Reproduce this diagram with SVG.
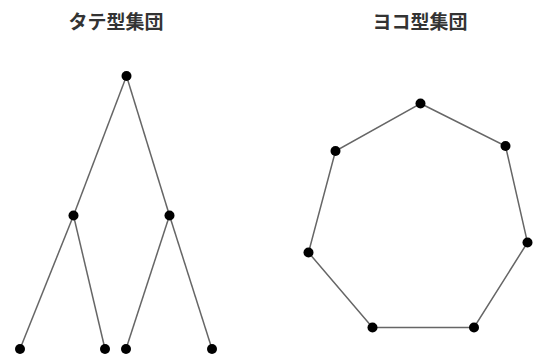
<svg xmlns="http://www.w3.org/2000/svg" width="540" height="364" viewBox="0 0 540 364">
<style>
.t{font-family:"Noto Sans CJK JP","Noto Sans",sans-serif;font-size:19px;font-weight:bold;fill:#333;text-anchor:middle}
.e{stroke:#666;stroke-width:1.5;fill:none}
.n{fill:#000}
</style>
<rect width="540" height="364" fill="#fff"/>
<text class="t" x="116" y="29">タテ型集団</text>
<text class="t" x="420" y="29">ヨコ型集団</text>
<g id="connectors">
<line class="e" x1="126.5" y1="76" x2="73.5" y2="215.5"/>
<line class="e" x1="126.5" y1="76" x2="169.5" y2="215.5"/>
<line class="e" x1="73.5" y1="215.5" x2="20" y2="349"/>
<line class="e" x1="73.5" y1="215.5" x2="105" y2="349"/>
<line class="e" x1="169.5" y1="215.5" x2="126" y2="349"/>
<line class="e" x1="169.5" y1="215.5" x2="212" y2="349"/>
<polygon class="e" points="420.5,103.5 505.5,146 527.5,242.5 474,327.5 372.5,327.5 308.5,252.5 335.5,151"/>
</g>
<g id="tree-root"><circle class="n" cx="126.5" cy="76" r="5"/></g>
<g id="tree-mid-left"><circle class="n" cx="73.5" cy="215.5" r="5"/></g>
<g id="tree-mid-right"><circle class="n" cx="169.5" cy="215.5" r="5"/></g>
<g id="tree-leaf-1"><circle class="n" cx="20" cy="349" r="5"/></g>
<g id="tree-leaf-2"><circle class="n" cx="105" cy="349" r="5"/></g>
<g id="tree-leaf-3"><circle class="n" cx="126" cy="349" r="5"/></g>
<g id="tree-leaf-4"><circle class="n" cx="212" cy="349" r="5"/></g>
<g id="ring-1"><circle class="n" cx="420.5" cy="103.5" r="5"/></g>
<g id="ring-2"><circle class="n" cx="505.5" cy="146" r="5"/></g>
<g id="ring-3"><circle class="n" cx="527.5" cy="242.5" r="5"/></g>
<g id="ring-4"><circle class="n" cx="474" cy="327.5" r="5"/></g>
<g id="ring-5"><circle class="n" cx="372.5" cy="327.5" r="5"/></g>
<g id="ring-6"><circle class="n" cx="308.5" cy="252.5" r="5"/></g>
<g id="ring-7"><circle class="n" cx="335.5" cy="151" r="5"/></g>
</svg>
